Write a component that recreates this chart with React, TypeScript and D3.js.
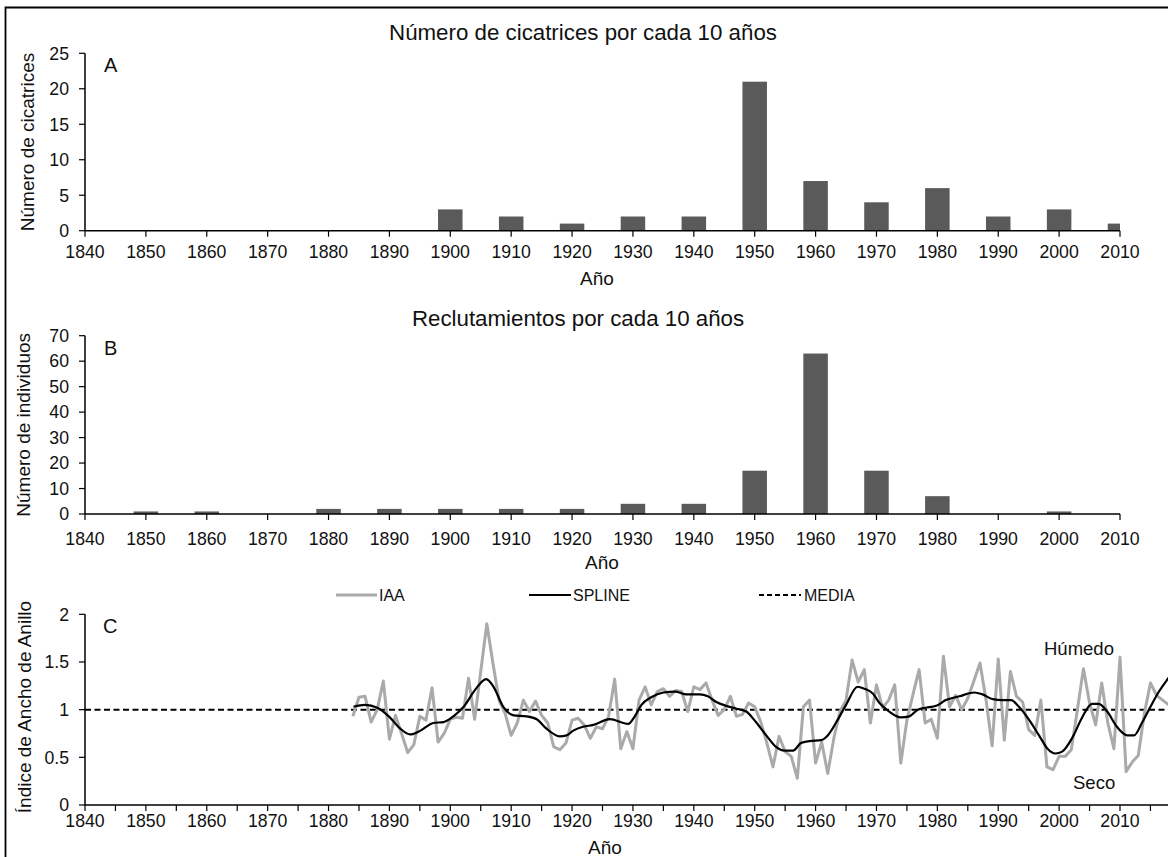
import React from 'react';
import * as d3 from 'd3';

const W = 1168;
const H = 857;
const FONT = "'Liberation Sans', Arial, Helvetica, sans-serif";

// ---- Data ----
const decadeTicks = [1840, 1850, 1860, 1870, 1880, 1890, 1900, 1910, 1920, 1930, 1940, 1950, 1960, 1970, 1980, 1990, 2000, 2010];
const fiveYearTicks = d3.range(1840, 2016, 5);

const scarYears = [1900, 1910, 1920, 1930, 1940, 1950, 1960, 1970, 1980, 1990, 2000, 2010];
const scarCounts = [3, 2, 1, 2, 2, 21, 7, 4, 6, 2, 3, 1];

const recruitYears = [1850, 1860, 1870, 1880, 1890, 1900, 1910, 1920, 1930, 1940, 1950, 1960, 1970, 1980, 1990, 2000];
const recruitCounts = [1, 1, 0, 2, 2, 2, 2, 2, 4, 4, 17, 63, 17, 7, 0, 1];

const yTicksA = [0, 5, 10, 15, 20, 25];
const yTicksB = [0, 10, 20, 30, 40, 50, 60, 70];
const yTicksC = [0, 0.5, 1, 1.5, 2];

const iaaStart = 1884;
const iaaValues = [
  0.93, 1.13, 1.14, 0.87, 1.0, 1.3, 0.69, 0.94, 0.75, 0.55, // 1884-1893
  0.63, 0.93, 0.89, 1.23, 0.66, 0.75, 0.9, 0.92, 0.91, 1.33, // 1894-1903
  0.9, 1.4, 1.9, 1.49, 1.1, 0.96, 0.73, 0.86, 1.1, 0.98, // 1904-1913
  1.09, 0.94, 0.86, 0.61, 0.58, 0.65, 0.89, 0.91, 0.84, 0.7, // 1914-1923
  0.82, 0.8, 0.93, 1.32, 0.59, 0.77, 0.59, 1.1, 1.24, 1.05, // 1924-1933
  1.19, 1.22, 1.14, 1.2, 1.19, 0.98, 1.24, 1.21, 1.28, 1.1, // 1934-1943
  0.94, 1.0, 1.14, 0.93, 0.95, 1.07, 1.03, 0.87, 0.65, 0.4, // 1944-1953
  0.72, 0.56, 0.51, 0.28, 1.03, 1.1, 0.44, 0.66, 0.33, 0.7, // 1954-1963
  0.98, 1.1, 1.52, 1.29, 1.42, 0.86, 1.26, 1.02, 1.1, 1.26, // 1964-1973
  0.44, 0.89, 1.16, 1.42, 0.86, 0.9, 0.7, 1.56, 1.03, 1.15, // 1974-1983
  1.0, 1.12, 1.3, 1.49, 1.1, 0.62, 1.53, 0.68, 1.4, 1.14, // 1984-1993
  1.08, 0.79, 0.73, 1.1, 0.4, 0.37, 0.51, 0.51, 0.58, 1.0, // 1994-2003
  1.43, 1.07, 0.84, 1.28, 0.86, 0.59, 1.55, 0.35, 0.45, 0.52, // 2004-2013
  0.96, 1.28, 1.15, 1.1, 1.05, // 2014-2018
];
const iaaYears = iaaValues.map((_, i) => iaaStart + i);

const splineYears = [
  1884.1, 1886, 1888, 1889.9, 1891.8, 1893.4, 1895.1, 1897.2, 1898.9, 1900.5,
  1902.2, 1904.1, 1905.9, 1907.1, 1908.7, 1910.4, 1912.5, 1914.2, 1915.8, 1918,
  1919.1, 1920.2, 1921.8, 1923.5, 1926.2, 1929.2, 1930.3, 1931.4, 1933, 1935,
  1936.9, 1938.8, 1941, 1942.3, 1943.7, 1945.3, 1947, 1948.6, 1950.2, 1951.9,
  1953.5, 1954.9, 1956.3, 1957.6, 1959, 1960.9, 1962, 1963.6, 1965, 1966.9,
  1968, 1969.4, 1970.5, 1972.1, 1974, 1975.4, 1976.8, 1978.1, 1979.8, 1981.4,
  1983.6, 1986.1, 1987.4, 1989.1, 1990.7, 1992.1, 1993.4, 1995.1, 1996.7, 1998.1,
  1999.4, 2000.5, 2002.2, 2003.8, 2005.4, 2006.5, 2007.9, 2009.5, 2011.2, 2012.3,
  2013.6, 2015, 2016.4, 2017.7, 2018.5,
];
const splineValues = [
  1.03, 1.05, 1.02, 0.93, 0.8, 0.74, 0.78, 0.86, 0.87, 0.93,
  1.03, 1.21, 1.32, 1.24, 1.03, 0.94, 0.93, 0.9, 0.8, 0.72,
  0.73, 0.78, 0.82, 0.84, 0.9, 0.85, 0.93, 1.05, 1.13, 1.18,
  1.19, 1.16, 1.16, 1.14, 1.08, 1.04, 1.01, 0.98, 0.87, 0.73,
  0.61, 0.57, 0.57, 0.65, 0.67, 0.68, 0.73, 0.89, 1.05, 1.24,
  1.22, 1.17, 1.07, 0.98, 0.92, 0.93, 1.0, 1.02, 1.04, 1.1,
  1.14, 1.18, 1.16, 1.11, 1.1, 1.1, 1.03, 0.89, 0.73, 0.59,
  0.54, 0.56, 0.71, 0.92, 1.06, 1.06, 0.98, 0.82, 0.73, 0.73,
  0.86, 1.03, 1.19, 1.31, 1.38,
];
const mediaValue = 1;

// ---- Scales ----
const x = d3.scaleLinear().domain([1840, 2010]).range([85, 1120]);
const yA = d3.scaleLinear().domain([0, 25]).range([230.7, 53.3]);
const yB = d3.scaleLinear().domain([0, 70]).range([514, 335.7]);
const yC = d3.scaleLinear().domain([0, 2]).range([805, 614.3]);
const BAR_W = 24.5;
const BAR_COLOR = '#5a5a5a';
const TICK_FS = 17.7;
const LABEL_FS = 19;
const TITLE_FS = 22.3;
const LETTER_FS = 20;
const INK = '#111';

function BarPanel({ years, counts, y, yTicks, id, title, titleX, titleY, letter, letterY, yLabel, yLabelX, xLabelX, tickDy }) {
  const [y0, yTop] = y.range();
  return (
    <g>
      <clipPath id={id}>
        <rect x={x(1840)} y={yTop - 5} width={x(2010) - x(1840)} height={y0 - yTop + 5} />
      </clipPath>
      <text x={titleX} y={titleY} fontSize={TITLE_FS} textAnchor="middle" fill={INK}>{title}</text>
      <text x={104} y={letterY} fontSize={LETTER_FS} fill={INK}>{letter}</text>
      <g clipPath={`url(#${id})`}>
        {years.map((yr, i) => (
          <rect key={yr} x={x(yr) - BAR_W / 2} y={y(counts[i])} width={BAR_W} height={y0 - y(counts[i])} fill={BAR_COLOR} />
        ))}
      </g>
      <line x1={x(1840)} x2={x(1840)} y1={yTop} y2={y0} stroke="#000" strokeWidth={1.5} />
      <line x1={x(1840)} x2={x(2010)} y1={y0} y2={y0} stroke="#000" strokeWidth={1.5} />
      {yTicks.map((t) => (
        <g key={t}>
          <line x1={x(1840) - 6} x2={x(1840)} y1={y(t)} y2={y(t)} stroke="#000" strokeWidth={1.2} />
          <text x={x(1840) - 16} y={y(t) + 6.3} fontSize={TICK_FS} textAnchor="end" fill={INK}>{t}</text>
        </g>
      ))}
      {decadeTicks.map((t) => (
        <g key={t}>
          <line x1={x(t)} x2={x(t)} y1={y0} y2={y0 + 6} stroke="#000" strokeWidth={1.2} />
          <text x={x(t)} y={y0 + tickDy} fontSize={TICK_FS} textAnchor="middle" fill={INK}>{t}</text>
        </g>
      ))}
      <text x={xLabelX} y={y0 + 54.5} fontSize={LABEL_FS} textAnchor="middle" fill={INK}>Año</text>
      <text transform={`translate(${yLabelX},${(y0 + yTop) / 2}) rotate(-90)`} fontSize={LABEL_FS} textAnchor="middle" fill={INK}>{yLabel}</text>
    </g>
  );
}

function LinePanel() {
  const y0 = yC(0);
  const iaaLine = d3.line<number>().x((_, i) => x(iaaYears[i])).y((v) => yC(v));
  const splineLine = d3.line<number>().x((_, i) => x(splineYears[i])).y((v) => yC(v)).curve(d3.curveMonotoneX);
  const legendY = 595;
  const LEG_FS = 16;
  return (
    <g>
      <clipPath id="clipC">
        <rect x={x(1840)} y={600} width={W - x(1840)} height={y0 - 600} />
      </clipPath>
      {/* legend */}
      <line x1={336} x2={377} y1={legendY} y2={legendY} stroke="#aaaaaa" strokeWidth={3} />
      <text x={379} y={legendY + 5.8} fontSize={LEG_FS} fill={INK}>IAA</text>
      <line x1={529} x2={571} y1={legendY} y2={legendY} stroke="#000" strokeWidth={2} />
      <text x={573} y={legendY + 5.8} fontSize={LEG_FS} fill={INK}>SPLINE</text>
      <line x1={759} x2={801} y1={legendY} y2={legendY} stroke="#000" strokeWidth={2} strokeDasharray="5,3" />
      <text x={804} y={legendY + 5.8} fontSize={LEG_FS} fill={INK}>MEDIA</text>

      <text x={103} y={633} fontSize={LETTER_FS} fill={INK}>C</text>
      <g clipPath="url(#clipC)">
        <line x1={x(1840)} x2={W} y1={yC(mediaValue)} y2={yC(mediaValue)} stroke="#000" strokeWidth={2} strokeDasharray="6,3.5" />
        <path d={iaaLine(iaaValues) || ''} fill="none" stroke="#aaaaaa" strokeWidth={3} strokeLinejoin="round" />
        <path d={splineLine(splineValues) || ''} fill="none" stroke="#000" strokeWidth={2.2} />
      </g>
      <line x1={x(1840)} x2={x(1840)} y1={yC(2)} y2={y0} stroke="#000" strokeWidth={1.5} />
      <line x1={x(1840)} x2={W} y1={y0} y2={y0} stroke="#000" strokeWidth={1.5} />
      {yTicksC.map((t) => (
        <g key={t}>
          <line x1={x(1840) - 6} x2={x(1840)} y1={yC(t)} y2={yC(t)} stroke="#000" strokeWidth={1.2} />
          <text x={x(1840) - 16} y={yC(t) + 6.3} fontSize={TICK_FS} textAnchor="end" fill={INK}>{t}</text>
        </g>
      ))}
      {fiveYearTicks.map((t) => (
        <line key={t} x1={x(t)} x2={x(t)} y1={y0} y2={y0 + 6} stroke="#000" strokeWidth={1.2} />
      ))}
      {decadeTicks.map((t) => (
        <text key={t} x={x(t)} y={y0 + 21.5} fontSize={TICK_FS} textAnchor="middle" fill={INK}>{t}</text>
      ))}
      <text x={605} y={854} fontSize={LABEL_FS} textAnchor="middle" fill={INK}>Año</text>
      <text transform={`translate(31,707) rotate(-90)`} fontSize={LABEL_FS} textAnchor="middle" fill={INK}>Índice de Ancho de Anillo</text>
      <text x={1044} y={655} fontSize={18.5} fill={INK}>Húmedo</text>
      <text x={1073} y={789} fontSize={18.5} fill={INK}>Seco</text>
    </g>
  );
}

export default function App() {
  return (
    <div style={{ position: 'absolute', left: 0, top: 0, width: W, height: H, overflow: 'hidden', background: '#fff' }}>
      <svg width={W} height={H} style={{ display: 'block', fontFamily: FONT }}>
        <rect x={0} y={0} width={W} height={H} fill="#fff" />
        <path d={`M5.5,${H} V7.5 H${W}`} fill="none" stroke="#000" strokeWidth={1.8} />
        <BarPanel
          years={scarYears}
          counts={scarCounts}
          y={yA}
          yTicks={yTicksA}
          id="clipA"
          title="Número de cicatrices por cada 10 años"
          titleX={583}
          titleY={40}
          letter="A"
          letterY={72}
          yLabel="Número de cicatrices"
          yLabelX={34}
          xLabelX={597}
          tickDy={27.5}
        />
        <BarPanel
          years={recruitYears}
          counts={recruitCounts}
          y={yB}
          yTicks={yTicksB}
          id="clipB"
          title="Reclutamientos por cada 10 años"
          titleX={578}
          titleY={326}
          letter="B"
          letterY={355}
          yLabel="Número de individuos"
          yLabelX={30}
          xLabelX={602}
          tickDy={30.5}
        />
        <LinePanel />
      </svg>
    </div>
  );
}
